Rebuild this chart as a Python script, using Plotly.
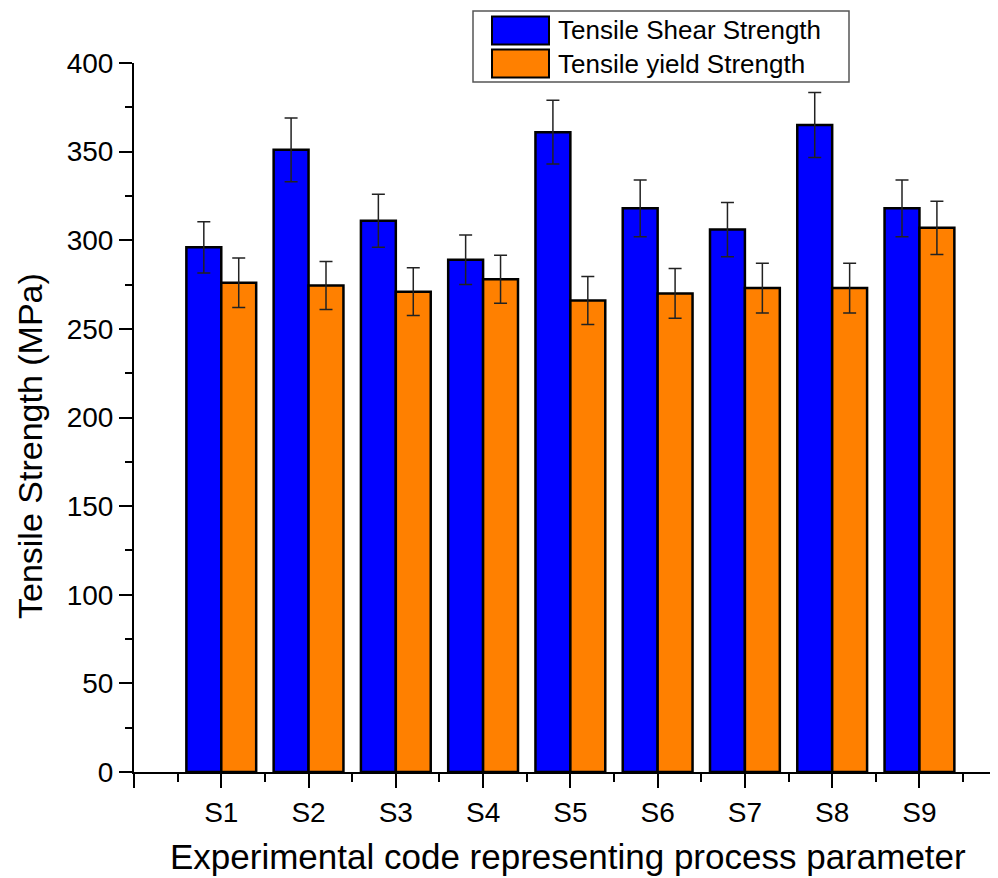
import plotly.graph_objects as go

categories = ["S1", "S2", "S3", "S4", "S5", "S6", "S7", "S8", "S9"]
shear_strength = [296, 351, 311, 289, 361, 318, 306, 365, 318]
shear_err = [14.5, 18, 15, 14, 18, 16, 15.3, 18.3, 16]
yield_strength = [276, 274.5, 271, 278, 266, 270, 273, 273, 307]
yield_err = [14, 13.5, 13.5, 13.5, 13.5, 14, 14, 14, 15]
series_names = ["Tensile Shear Strength", "Tensile yield Strength"]
y_ticks = [0, 50, 100, 150, 200, 250, 300, 350, 400]

BLUE = "#0000FF"
ORANGE = "#FF8000"
FONT = "Liberation Sans, Arial, sans-serif"

OFF = 8  # browser body margin
W, H = 998 - OFF, 878 - OFF
L, R, T, B = 134 - OFF, 0, 63 - OFF, 878 - 772
PW, PH = W - L - R, H - T - B

def px(x):
    return (x - OFF - L) / PW

def py(y):
    return (H - B - (y - OFF)) / PH

xpos = list(range(1, len(categories) + 1))

fig = go.Figure()
for vals, errs, col, name in [(shear_strength, shear_err, BLUE, series_names[0]),
                              (yield_strength, yield_err, ORANGE, series_names[1])]:
    fig.add_trace(go.Bar(
        x=xpos, y=vals, name=name,
        marker=dict(color=col, line=dict(color="black", width=2.5)),
        error_y=dict(type="data", array=errs, visible=True,
                     color="#222222", thickness=1.5, width=6.5),
        showlegend=False,
    ))

fig.update_layout(
    width=W, height=H,
    margin=dict(l=L, r=R, t=T, b=B, autoexpand=False),
    paper_bgcolor="white", plot_bgcolor="white",
    barmode="group", bargap=0.2, bargroupgap=0,
    font=dict(family=FONT, color="black"),
    xaxis=dict(
        range=[0, 9.9], tickmode="array",
        tickvals=[0] + xpos, ticktext=[""] + categories,
        ticks="outside", ticklen=14, tickwidth=2, tickcolor="black",
        showline=True, linecolor="black", linewidth=2,
        showgrid=False, zeroline=False,
        tickfont=dict(size=28, family=FONT),
        minor=dict(tickmode="linear", tick0=0.5, dtick=1, ticks="outside",
                   ticklen=8, tickwidth=2, tickcolor="black", showgrid=False),
    ),
    yaxis=dict(
        range=[0, 400], tickmode="array", tickvals=y_ticks,
        ticks="outside", ticklen=13, tickwidth=2, tickcolor="black",
        showline=True, linecolor="black", linewidth=2,
        showgrid=False, zeroline=False,
        tickfont=dict(size=28, family=FONT),
        minor=dict(tickmode="linear", tick0=25, dtick=50, ticks="outside",
                   ticklen=7, tickwidth=2, tickcolor="black", showgrid=False),
    ),
)

# axis titles
fig.add_annotation(text="Experimental code representing process parameter",
                   x=px(568), y=py(856), xref="paper", yref="paper",
                   xanchor="center", yanchor="middle", showarrow=False,
                   font=dict(size=35, family=FONT, color="black"))
fig.add_annotation(text="Tensile Strength (MPa)",
                   x=px(30), y=py(446), xref="paper", yref="paper",
                   xanchor="center", yanchor="middle", showarrow=False,
                   textangle=-90,
                   font=dict(size=34, family=FONT, color="black"))

# legend box
fig.add_shape(type="rect", xref="paper", yref="paper",
              x0=px(473), x1=px(849), y0=py(82), y1=py(11),
              line=dict(color="#555555", width=1.5), fillcolor="white", layer="above")
for i, (col, name) in enumerate([(BLUE, series_names[0]), (ORANGE, series_names[1])]):
    top = 16.5 + i * 33
    fig.add_shape(type="rect", xref="paper", yref="paper",
                  x0=px(492), x1=px(549), y0=py(top + 28), y1=py(top),
                  line=dict(color="black", width=2), fillcolor=col, layer="above")
    fig.add_annotation(text=name, x=px(556), y=py(top + 14), xref="paper", yref="paper",
                       xanchor="left", yanchor="middle", showarrow=False,
                       font=dict(size=26, family=FONT, color="black"))

fig.write_html("out.html")
